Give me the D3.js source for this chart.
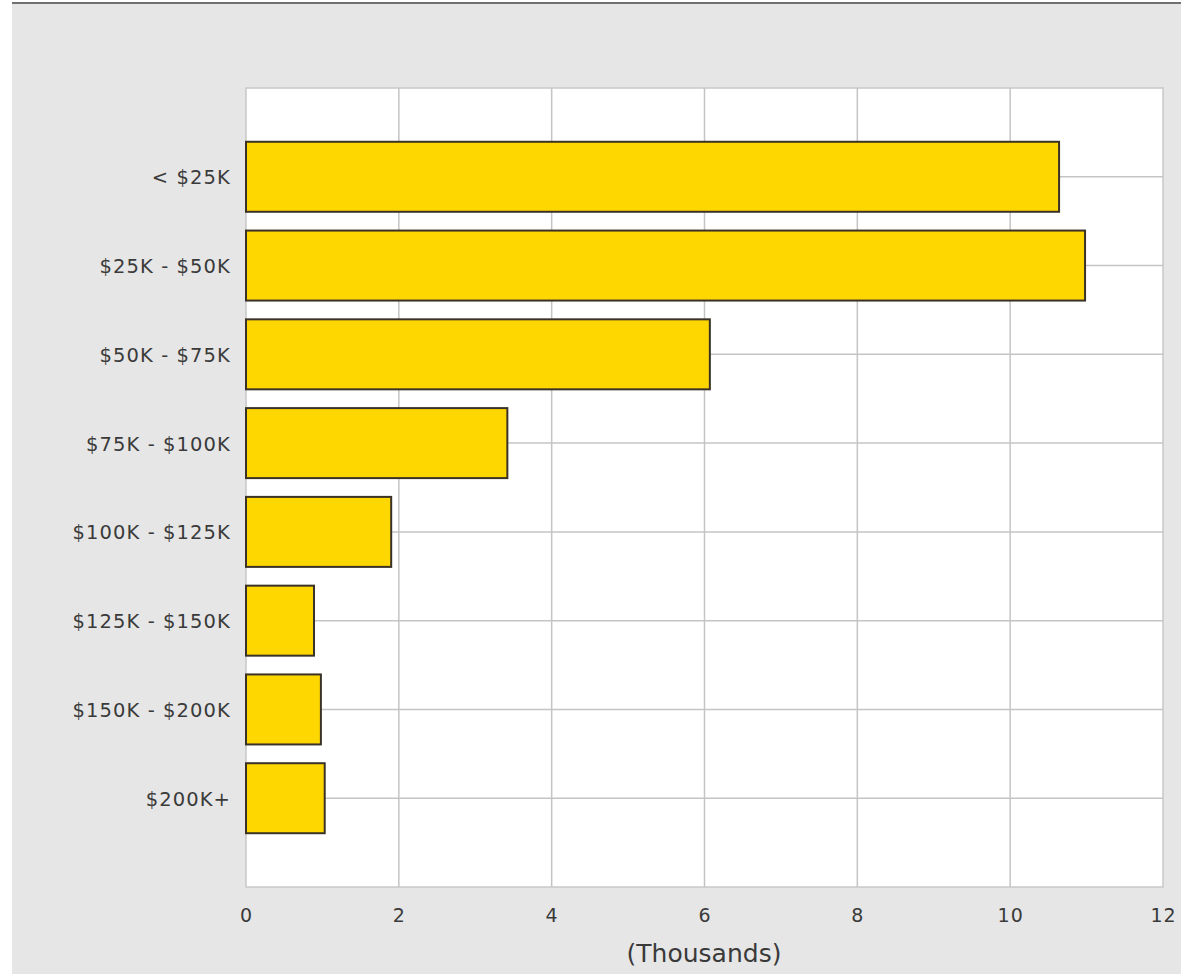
<!DOCTYPE html>
<html><head><meta charset="utf-8">
<script src="https://cdn.jsdelivr.net/npm/d3@7"></script>
<style>html,body{margin:0;padding:0;background:#fff;}svg{display:block;}</style>
</head><body>
<svg id="chart" width="1181" height="974"></svg>
<script>
const categories = ["< $25K","$25K - $50K","$50K - $75K","$75K - $100K","$100K - $125K","$125K - $150K","$150K - $200K","$200K+"];
const values = [10.64, 10.98, 6.07, 3.42, 1.90, 0.89, 0.98, 1.03];
const xTicks = [0, 2, 4, 6, 8, 10, 12];
const xTitle = "(Thousands)";

const svg = d3.select("#chart");
const W = 1181, H = 974;
const m = {left: 246, right: 1163, top: 88, bottom: 887};
const FONT = "'DejaVu Sans', Verdana, sans-serif";

svg.append("rect").attr("x", 12).attr("y", 3).attr("width", W - 12).attr("height", H - 3).attr("fill", "#e6e6e6");
svg.append("line").attr("x1", 12).attr("x2", W).attr("y1", 3).attr("y2", 3).attr("stroke", "#707070").attr("stroke-width", 2);

const x = d3.scaleLinear().domain([0, 12]).range([m.left, m.right]);
const y = d3.scalePoint().domain(categories).range([m.top, m.bottom]).padding(1);

svg.append("rect").attr("x", m.left).attr("y", m.top).attr("width", m.right - m.left).attr("height", m.bottom - m.top)
  .attr("fill", "#fff").attr("stroke", "#c8c8c8").attr("stroke-width", 1.5);

const g = svg.append("g");
g.selectAll(".vg").data(xTicks.slice(1, -1)).join("line")
  .attr("x1", d => x(d)).attr("x2", d => x(d)).attr("y1", m.top).attr("y2", m.bottom)
  .attr("stroke", "#c4c4c4").attr("stroke-width", 1.5);
g.selectAll(".hg").data(categories).join("line")
  .attr("x1", m.left).attr("x2", m.right).attr("y1", d => y(d)).attr("y2", d => y(d))
  .attr("stroke", "#c4c4c4").attr("stroke-width", 1.5);

const barH = 70;
g.selectAll(".bar").data(categories).join("rect")
  .attr("x", x(0)).attr("y", d => y(d) - barH / 2)
  .attr("width", (d, i) => x(values[i]) - x(0)).attr("height", barH)
  .attr("fill", "#ffd700").attr("stroke", "#3a3226").attr("stroke-width", 2);

const xAxis = d3.axisBottom(x).tickValues(xTicks).tickSize(0).tickPadding(0).tickFormat(d3.format("d"));
const xa = svg.append("g").attr("transform", `translate(0,${m.bottom})`).call(xAxis);
xa.select(".domain").remove();
xa.selectAll("text").attr("dy", 0).attr("y", 35).attr("fill", "#3a3a3a")
  .style("font-family", FONT).style("font-size", "19px").style("letter-spacing", "1px");

const yAxis = d3.axisLeft(y).tickSize(0).tickPadding(15);
const ya = svg.append("g").attr("transform", `translate(${m.left},0)`).call(yAxis);
ya.select(".domain").remove();
ya.selectAll("text").attr("fill", "#3a3a3a").attr("dy", "0.36em")
  .style("font-family", FONT).style("font-size", "19.5px").style("letter-spacing", "1.1px");

svg.append("text").attr("x", 704).attr("y", 962).attr("text-anchor", "middle")
  .attr("fill", "#3a3a3a").style("font-family", FONT).style("font-size", "25px")
  .text(xTitle);
</script>
</body></html>
